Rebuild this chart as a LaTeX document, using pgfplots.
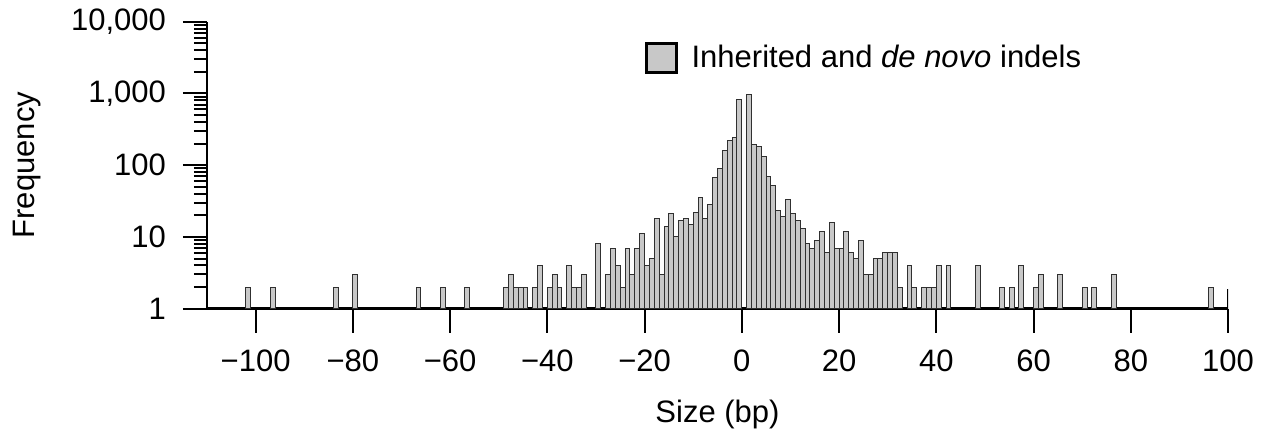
\documentclass[border=0pt]{standalone}
\usepackage{fontspec}
\setmainfont{Liberation Sans}
\usepackage{pgfplots}
\usepackage{pgfplotstable}
\pgfplotsset{compat=1.18}
\definecolor{barfill}{HTML}{C8C8C8}
\definecolor{baredge}{HTML}{303030}
% x = bin centre (size k plotted at k+0.5), y = count
\pgfplotstableread{
x y
-101.5 2
-96.5 2
-83.5 2
-79.5 3
-66.5 2
-61.5 2
-56.5 2
-48.5 2
-47.5 3
-46.5 2
-45.5 2
-44.5 2
-42.5 2
-41.5 4
-39.5 2
-38.5 3
-37.5 2
-35.5 4
-34.5 2
-33.5 2
-32.5 3
-29.5 8
-27.5 3
-26.5 7
-25.5 4
-24.5 2
-23.5 7
-22.5 3
-21.5 7
-20.5 11
-19.5 4
-18.5 5
-17.5 18
-16.5 3
-15.5 14
-14.5 21
-13.5 10
-12.5 17
-11.5 18
-10.5 15
-9.5 22
-8.5 35
-7.5 18
-6.5 28
-5.5 67
-4.5 90
-3.5 160
-2.5 221
-1.5 244
-0.5 811
1.5 962
2.5 197
3.5 183
4.5 131
5.5 70
6.5 52
7.5 23
8.5 19
9.5 33
10.5 21
11.5 17
12.5 13
13.5 8
14.5 7
15.5 9
16.5 12
17.5 6
18.5 16
19.5 7
20.5 7
21.5 12
22.5 6
23.5 5
24.5 9
25.5 3
26.5 3
27.5 5
28.5 5
29.5 6
30.5 6
31.5 6
32.5 2
34.5 4
35.5 2
37.5 2
38.5 2
39.5 2
40.5 4
42.5 4
48.5 4
53.5 2
55.5 2
57.5 4
60.5 2
61.5 3
65.5 3
70.5 2
72.5 2
76.5 3
96.5 2
}\indels
\begin{document}
\begin{tikzpicture}
\begin{axis}[
  name=ax,
  scale only axis,
  width=510.5pt, height=143.5pt,
  xmin=-110, xmax=100,
  ymode=log, ymin=1, ymax=10000,
  axis x line=bottom, axis y line=left,
  axis line style={-, line width=1.3pt, black},
  tick align=outside,
  major tick length=12pt, minor tick length=6.5pt,
  tick style={line width=1pt, black},
  xtick={-100,-80,...,100},
  xticklabels={−100,−80,−60,−40,−20,0,20,40,60,80,100},
  ytick={1,10,100,1000,10000},
  yticklabels={1,10,100,{1,000},{10,000}},
  tick label style={font=\fontsize{15.5}{18}\selectfont},
  xticklabel style={yshift=-5pt},
  yticklabel style={xshift=-5pt},
  label style={font=\fontsize{15.5}{18}\selectfont},
  xlabel={Size (bp)},
  ylabel={Frequency},
  xlabel style={at={(axis description cs:0.5,-0.398)}, anchor=base, inner sep=0pt},
  ylabel style={at={(axis description cs:-0.162,0.5)}, anchor=south, inner sep=0pt},
  legend style={draw=none, fill=none, inner sep=0pt, outer sep=0pt,
    at={(axis description cs:0.429,0.8735)}, anchor=west,
    font=\fontsize{15.5}{18}\selectfont, column sep=7pt,
    nodes={inner sep=0pt}},
  legend image code/.code={\draw[line width=1.3pt, draw=black, fill=barfill] (0pt,-7.25pt) rectangle (15pt,7.25pt);},
]
\addplot[ybar, bar width=1, fill=barfill, draw=baredge, line width=0.5pt] table[x=x, y=y] {\indels};
\addlegendentry{Inherited and \textit{de novo} indels}
\draw[line width=1pt] (axis cs:100,1) -- ++(0pt,10pt);
\end{axis}
\path (ax.south west) ++(-103.5pt,-64.65pt) coordinate (bl);
\path (ax.north east) ++(23.5pt,10.85pt) coordinate (tr);
\path (bl) rectangle (tr);
\end{tikzpicture}
\end{document}
